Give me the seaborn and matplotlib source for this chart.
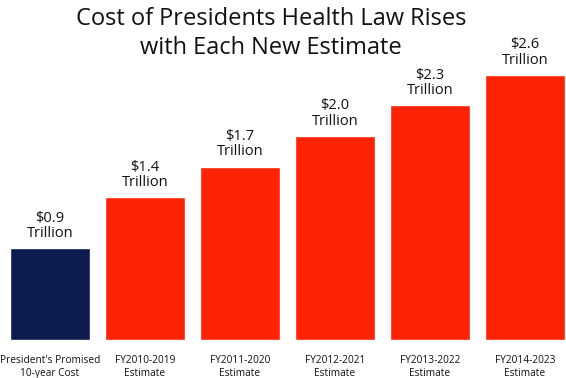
import matplotlib
matplotlib.use("Agg")
import matplotlib.pyplot as plt
import seaborn as sns
import pandas as pd

categories = ["President's Promised\n10-year Cost", "FY2010-2019\nEstimate", "FY2011-2020\nEstimate",
              "FY2012-2021\nEstimate", "FY2013-2022\nEstimate", "FY2014-2023\nEstimate"]
values = [0.9, 1.4, 1.7, 2.0, 2.3, 2.6]
value_labels = ["$0.9\nTrillion", "$1.4\nTrillion", "$1.7\nTrillion",
                "$2.0\nTrillion", "$2.3\nTrillion", "$2.6\nTrillion"]
colors = ["#0c1a4e", "#ff2305", "#ff2305", "#ff2305", "#ff2305", "#ff2305"]

sns.set_theme(style="white")
plt.rcParams['font.family'] = ['Open Sans', 'DejaVu Sans']

df = pd.DataFrame({'category': categories, 'value': values})

fig = plt.figure(figsize=(5.66, 3.78), dpi=100)
ax = fig.add_axes([0, 38 / 378, 1, 340 / 378])
sns.barplot(data=df, x='category', y='value', hue='category', palette=colors,
            legend=False, width=0.84, saturation=1, ax=ax)

ax.set_xlim(-50 / 95, (566 - 50) / 95)
ax.set_ylim(0, 340 / 102)
for i, v in enumerate(values):
    ax.text(i, v + 0.07, value_labels[i], ha='center', va='bottom', fontsize=10.5,
            linespacing=1.05, color='#111111')

ax.set_xlabel('')
ax.set_ylabel('')
ax.set_yticks([])
ax.tick_params(axis='x', length=0, pad=11, labelsize=7.3, colors='#111111')
for s in ax.spines.values():
    s.set_visible(False)

fig.text(271 / 566, 1 - 7 / 378, "Cost of Presidents Health Law Rises\nwith Each New Estimate",
         ha='center', va='top', fontsize=17, linespacing=1.25, color='#111111')

fig.savefig('out.png', dpi=100)
